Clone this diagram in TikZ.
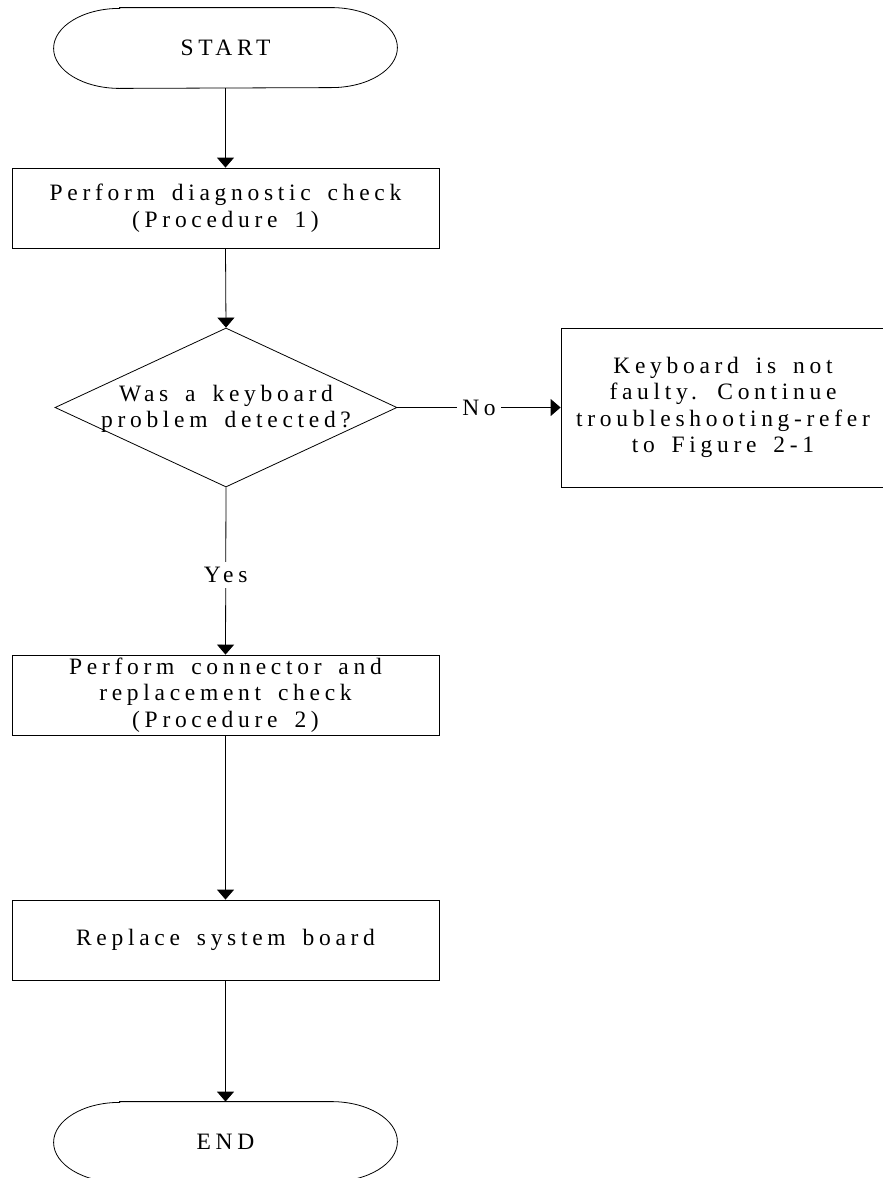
\documentclass[tikz,border=0pt]{standalone}
\usepackage{fontspec}
\setmainfont[LetterSpace=20,WordSpace=1.6]{Liberation Serif}
\usetikzlibrary{shapes.geometric,arrows.meta}
\newcommand{\term}[3]{
\node[termbox] (#1) at (#2) {#3};
\draw ([xshift=66pt]#1.north west) -- ([xshift=-66pt]#1.north east)
  arc[start angle=90,end angle=-90,x radius=66pt,y radius=40pt]
  -- ([xshift=66pt]#1.south west)
  arc[start angle=270,end angle=90,x radius=66pt,y radius=40pt] -- cycle;}

\begin{document}
\begin{tikzpicture}[x=1pt,y=-1pt,line width=0.8pt,
  every node/.style={font=\fontsize{23.5}{26.5}\selectfont,align=center},
  termbox/.style={rectangle,minimum width=343pt,minimum height=80pt,inner sep=0pt},
  procbox/.style={draw,rectangle,minimum width=427pt,minimum height=80pt,inner sep=0pt},
  decide/.style={draw,diamond,minimum width=342pt,minimum height=159pt,inner sep=0pt},
  notebox/.style={draw,rectangle,minimum width=324pt,minimum height=159pt,inner sep=0pt},
  answer/.style={fill=white,inner sep=5pt},
  flow/.style={-{Triangle[width=17pt,length=10pt]}}]
\useasboundingbox (0,0) rectangle (883,1178);

\term{start}{225.5,48}{START}
\node[procbox] (diag) at (225.5,208) {Perform diagnostic check\\(Procedure 1)};
\node[decide] (kbd) at (226,407.5) {};
\node (kbdtxt) at (226,409) {Was a keyboard\\problem detected?};
\node[notebox] (notkbd) at (723,407.5) {Keyboard is not\\faulty. Continue\\troubleshooting-refer\\to Figure 2-1};
\node[procbox] (conn) at (225.5,695) {Perform connector and\\replacement check\\(Procedure 2)};
\node[procbox] (board) at (225.5,940) {Replace system board};
\term{end}{225.5,1142}{END}

\draw[flow] (start.south) -- (diag.north);
\draw[flow] (diag.south) -- (kbd.north);
\draw[flow] (kbd.east) -- node[answer] (no) {No} (notkbd.west);
\draw[flow] (kbd.south) -- node[answer,pos=0.525] (yes) {Yes} (conn.north);
\draw[flow] (conn.south) -- (board.north);
\draw[flow] (board.south) -- (end.north);

\end{tikzpicture}
\end{document}
